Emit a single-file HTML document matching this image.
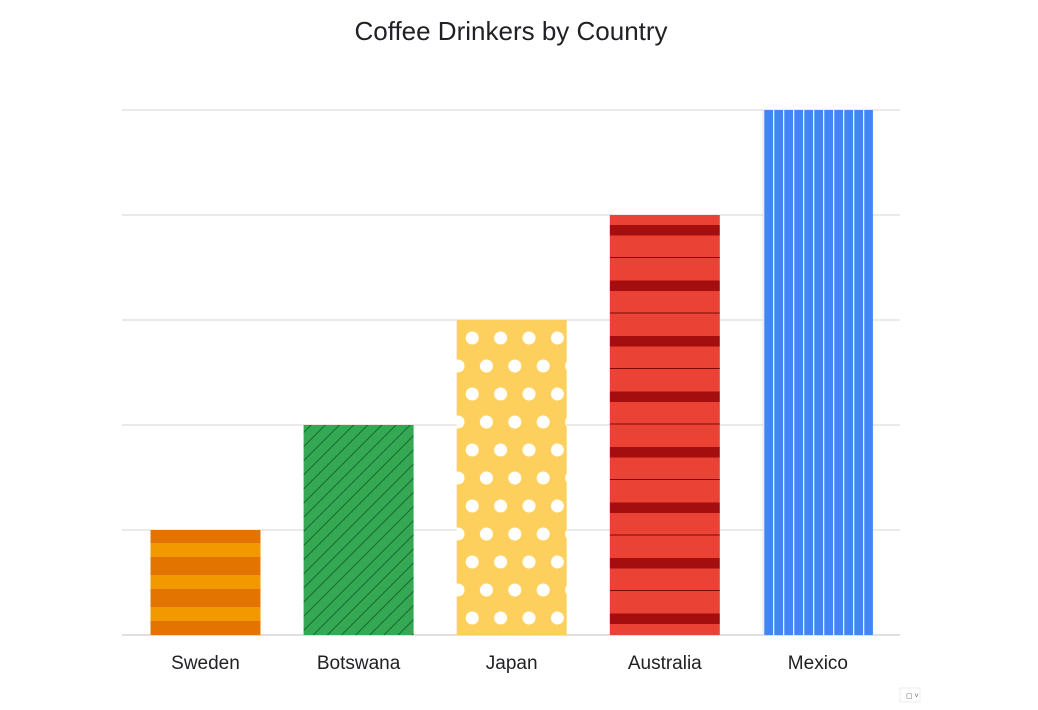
<!DOCTYPE html>
<html><head><meta charset="utf-8"><style>
body{margin:0;background:#fff;font-family:"Liberation Sans",sans-serif}
</style></head><body>
<svg id="chart" width="1038" height="705" xmlns="http://www.w3.org/2000/svg">
<defs>
<pattern id="p0" patternUnits="userSpaceOnUse" x="0" y="525" width="20" height="32"><rect width="20" height="32" fill="#f29900"/><rect width="20" height="18" y="0" fill="#e37400"/></pattern>
<pattern id="p1" patternUnits="userSpaceOnUse" width="10" height="10" patternTransform="rotate(45)"><rect width="10" height="10" fill="#34a853"/><line x1="0.5" y1="0" x2="0.5" y2="10" stroke="#17692f" stroke-width="1"/></pattern>
<pattern id="p2" patternUnits="userSpaceOnUse" x="458" y="324" width="28.4" height="56"><rect width="28.4" height="56" fill="#fdd05e"/><circle cx="14.2" cy="14" r="6.5" fill="#fff"/><circle cx="0" cy="42" r="6.5" fill="#fff"/><circle cx="28.4" cy="42" r="6.5" fill="#fff"/></pattern>
<pattern id="p3" patternUnits="userSpaceOnUse" x="0" y="225" width="20" height="55.5"><rect width="20" height="55.5" fill="#ea4335"/><rect width="20" height="10.5" fill="#a50e0e"/><rect width="20" height="1" y="32" fill="#7a0a0a"/></pattern>
<pattern id="p4" patternUnits="userSpaceOnUse" x="763" y="0" width="10" height="20"><rect width="10" height="20" fill="#4285f4"/><rect x="0" width="1.3" height="20" fill="#e8f0fe"/></pattern>
</defs>
<text x="511" y="40" text-anchor="middle" font-size="26" fill="#202124">Coffee Drinkers by Country</text>
<g id="grid"></g><g id="bars"></g><g id="labels"></g>
<rect x="900" y="688" width="20" height="14" fill="#fff" stroke="#eee"/>
<text x="906" y="698" font-size="7" fill="#555">▢ ˅</text>
</svg>
<script>
const categories=["Sweden","Botswana","Japan","Australia","Mexico"];
const values=[1,2,3,4,5];
const ticks=[0,1,2,3,4,5];
const fills=["url(#p0)","url(#p1)","url(#p2)","url(#p3)","url(#p4)"];
const NS="http://www.w3.org/2000/svg";
const x0=122,x1=900,yB=635,yT=110,maxV=5;
const y=v=>yB-(v/maxV)*(yB-yT);
const step=153.1, first=205.5, bw=110;
const grid=document.getElementById('grid');
ticks.forEach(t=>{const l=document.createElementNS(NS,'line');


l.setAttribute('x1',x0);l.setAttribute('x2',x1);l.setAttribute('y1',y(t));l.setAttribute('y2',y(t));
l.setAttribute('stroke',t===0?'#ccc':'#ddd');l.setAttribute('stroke-width','1.2');grid.appendChild(l);});
const bars=document.getElementById('bars'),labels=document.getElementById('labels');
categories.forEach((c,i)=>{const cx=first+step*i;
const r=document.createElementNS(NS,'rect');


r.setAttribute('x',cx-bw/2);r.setAttribute('width',bw);r.setAttribute('y',y(values[i]));r.setAttribute('height',yB-y(values[i]));
r.setAttribute('fill',fills[i]);bars.appendChild(r);
const t=document.createElementNS(NS,'text');


t.setAttribute('x',cx);t.setAttribute('y',669);t.setAttribute('text-anchor','middle');t.setAttribute('font-size','19');t.setAttribute('fill','#202124');
t.textContent=c;labels.appendChild(t);});
</script>
</body></html>
